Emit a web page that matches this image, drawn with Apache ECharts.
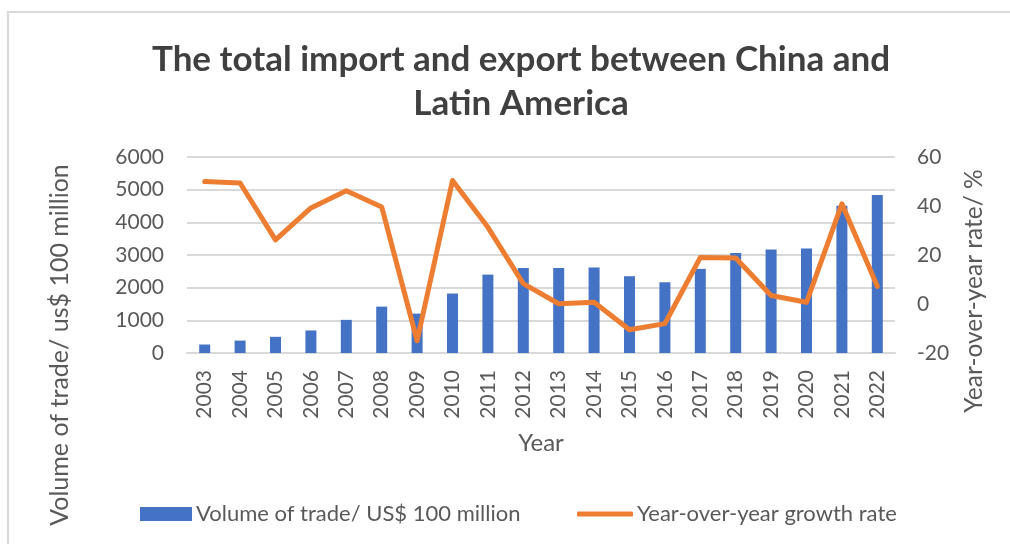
<!DOCTYPE html>
<html>
<head>
<meta charset="utf-8">
<script src="https://cdn.jsdelivr.net/npm/echarts@6/dist/echarts.min.js"></script>
<style>
  html, body { margin: 0; padding: 0; background: #fff; }
  #chart { width: 1010px; height: 544px; }
</style>
</head>
<body>
<div id="chart"></div>
<script>
// China – Latin America trade, 2003–2022
const years = ['2003','2004','2005','2006','2007','2008','2009','2010','2011','2012',
               '2013','2014','2015','2016','2017','2018','2019','2020','2021','2022'];
// Volume of trade, US$ 100 million
const tradeVolume = [260, 380, 495, 690, 1015, 1420, 1205, 1820, 2400, 2605,
                     2605, 2620, 2350, 2165, 2575, 3065, 3170, 3200, 4510, 4840];
// Year-over-year growth rate, %
const growthRate = [50.0, 49.4, 26.2, 39.2, 46.2, 39.6, -15.0, 50.4, 31.3, 8.3,
                    0.1, 0.7, -10.5, -8.0, 19.0, 18.8, 3.5, 0.7, 40.9, 7.2];
const leftTicks = { min: 0, max: 6000, interval: 1000 };
const rightTicks = { min: -20, max: 60, interval: 20 };

const FONT = 'Lato, "Open Sans", sans-serif';
const GREY = '#595959';
const BAR_NAME = 'Volume of trade/ US$ 100 million';
const LINE_NAME = 'Year-over-year growth rate';
const LEFT_TITLE = 'Volume of trade/ us$ 100 million';
const RIGHT_TITLE = 'Year-over-year rate/ %';

const chart = echarts.init(document.getElementById('chart'), null, { renderer: 'canvas' });
chart.setOption({
  backgroundColor: '#fff',
  animation: false,
  textStyle: { fontFamily: FONT },
  graphic: [{
    // chart-area frame
    type: 'rect',
    shape: { x: 8, y: 12, width: 1020, height: 560 },
    style: { fill: 'none', stroke: '#D9D9D9', lineWidth: 2 },
    silent: true, z: -1
  }, {
    // vertical axis titles, centred on the chart area rather than the plot
    type: 'text',
    x: 60, y: 345, rotation: Math.PI / 2,
    style: { text: LEFT_TITLE, fontFamily: FONT, fontSize: 25, fill: GREY,
             align: 'center', verticalAlign: 'middle' }
  }, {
    type: 'text',
    x: 974, y: 291, rotation: Math.PI / 2,
    style: { text: RIGHT_TITLE, fontFamily: FONT, fontSize: 24.5, fill: GREY,
             align: 'center', verticalAlign: 'middle' }
  }],
  title: {
    text: 'The total import and export between China and\nLatin America',
    left: 516, textAlign: 'center', top: 33,
    textStyle: { fontFamily: FONT, fontSize: 35, fontWeight: 'bold', color: '#404040', lineHeight: 44 }
  },
  legend: [{
    data: [{ name: BAR_NAME, icon: 'rect' }],
    left: 140, top: 503, itemWidth: 52, itemHeight: 14, itemGap: 6, padding: 0,
    textStyle: { fontFamily: FONT, fontSize: 22, color: GREY, padding: [0, 0, 0, -1] }
  }, {
    data: [{ name: LINE_NAME, icon: 'roundRect' }],
    left: 577, top: 503, itemWidth: 56, itemHeight: 5, itemGap: 6, padding: 0,
    textStyle: { fontFamily: FONT, fontSize: 22, color: GREY, padding: [0, 0, 0, -1] }
  }],
  grid: { left: 187, right: 115, top: 157, bottom: 191, containLabel: false },
  xAxis: {
    type: 'category',
    data: years,
    name: 'Year',
    nameLocation: 'middle',
    nameGap: 78,
    nameTextStyle: { fontFamily: FONT, fontSize: 24, color: GREY },
    axisLine: { lineStyle: { color: '#D9D9D9', width: 2 } },
    axisTick: { show: false },
    axisLabel: { rotate: 90, fontFamily: FONT, fontSize: 21, color: GREY, margin: 17, interval: 0 }
  },
  yAxis: [{
    type: 'value',
    min: leftTicks.min, max: leftTicks.max, interval: leftTicks.interval,
    axisLine: { show: false },
    axisTick: { show: false },
    axisLabel: { fontFamily: FONT, fontSize: 21, color: GREY, margin: 23,
                 formatter: v => String(v) },
    splitLine: { lineStyle: { color: '#D9D9D9', width: 2 } }
  }, {
    type: 'value',
    min: rightTicks.min, max: rightTicks.max, interval: rightTicks.interval,
    axisLine: { show: false },
    axisTick: { show: false },
    axisLabel: { fontFamily: FONT, fontSize: 21, color: GREY, margin: 22,
                 formatter: v => String(v) },
    splitLine: { show: false }
  }],
  series: [{
    name: BAR_NAME,
    type: 'bar',
    data: tradeVolume,
    yAxisIndex: 0,
    barWidth: 11,
    itemStyle: { color: '#4472C4' }
  }, {
    name: LINE_NAME,
    type: 'line',
    data: growthRate,
    yAxisIndex: 1,
    symbol: 'none',
    lineStyle: { color: '#ED7D31', width: 5, join: 'round', cap: 'round' },
    itemStyle: { color: '#ED7D31' },
    z: 3
  }]
});
</script>
</body>
</html>
